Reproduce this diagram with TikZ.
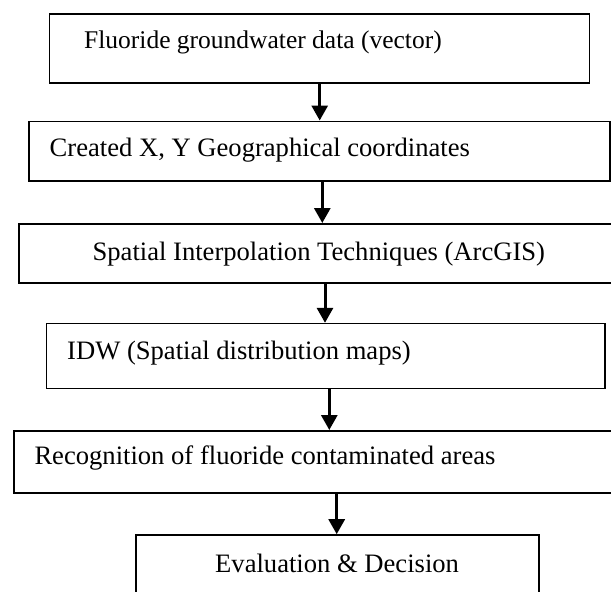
\documentclass[tikz,border=0pt]{standalone}
\usepackage{fontspec}
\setmainfont{Liberation Serif}
\usetikzlibrary{arrows.meta,positioning}
\tikzstyle{arrow} = [line width=3pt, -{Triangle[width=16pt,length=15pt]}]
\tikzstyle{stage} = [rectangle, draw, line width=1.6pt, inner sep=0pt, anchor=north west]
\tikzstyle{stagetext} = [inner sep=0pt, anchor=base west, font=\fontsize{26.6}{30}\selectfont]

\begin{document}
\begin{tikzpicture}[x=1pt, y=-1pt]
\useasboundingbox (0,0) rectangle (611,592);
% boxes
\node[stage, minimum width=540pt, minimum height=69pt] (b1) at (48.7,13) {};
\node[stage, minimum width=580.6pt, minimum height=59.5pt] (b2) at (28.4,120.5) {};
\node[stage, minimum width=610pt, minimum height=59pt] (b3) at (18.3,223) {};
\node[stage, minimum width=558.5pt, minimum height=64.7pt] (b4) at (45.6,322.8) {};
\node[stage, minimum width=610pt, minimum height=62pt] (b5) at (12.9,430) {};
\node[stage, minimum width=403pt, minimum height=80pt] (b6) at (135,534.2) {};
% texts
\node[stagetext, font=\fontsize{25.5}{30}\selectfont] (t1) at (84,48.5) {Fluoride groundwater data (vector)};
\node[stagetext] (t2) at (49.5,156.5) {Created X, Y Geographical coordinates};
\node[stagetext] (t3) at (92.4,260.3) {Spatial Interpolation Techniques (ArcGIS)};
\node[stagetext] (t4) at (67,359.7) {IDW (Spatial distribution maps)};
\node[stagetext] (t5) at (34.3,464.5) {Recognition of fluoride contaminated areas};
\node[stagetext] (t6) at (215,572) {Evaluation \& Decision};
% arrows
\draw[arrow] (b1.south -| 319.7,0) -- (b2.north -| 319.7,0);
\draw[arrow] (b2.south -| 322.3,0) -- (b3.north -| 322.3,0);
\draw[arrow] (b3.south -| 325,0) -- (b4.north -| 325,0);
\draw[arrow] (b4.south -| 329.3,0) -- (b5.north -| 329.3,0);
\draw[arrow] (b5.south -| 336.7,0) -- (b6.north -| 336.7,0);
\end{tikzpicture}
\end{document}
